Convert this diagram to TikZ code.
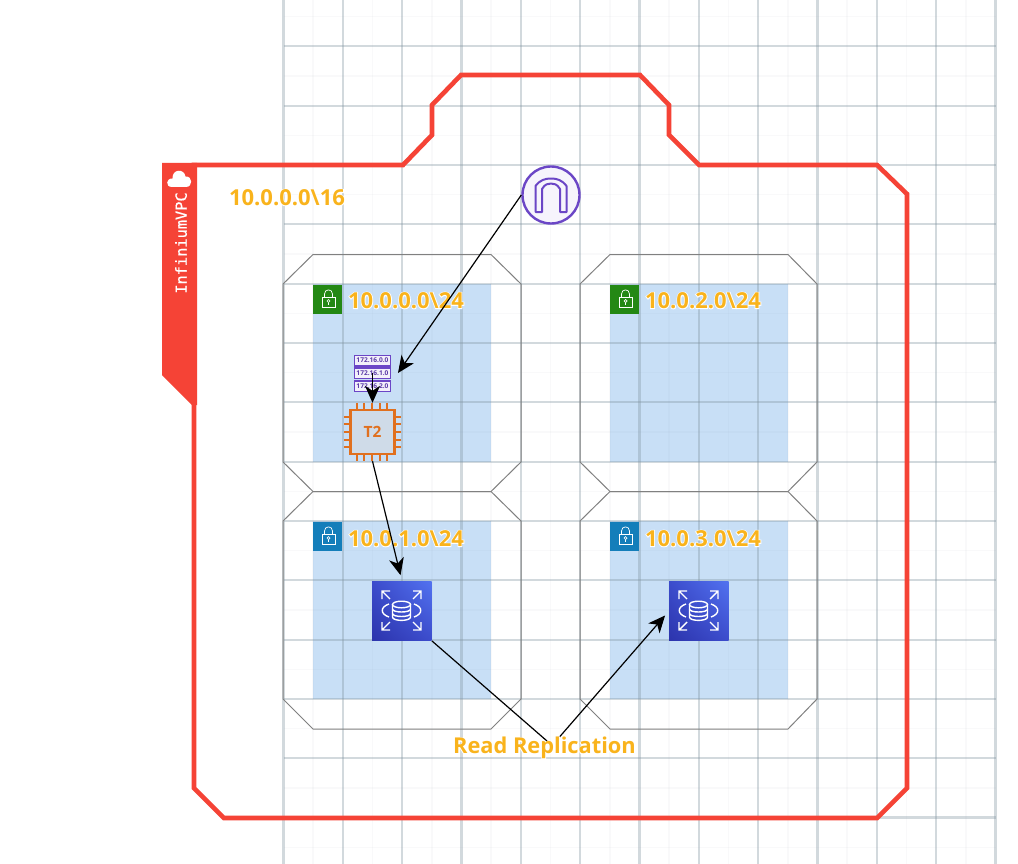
\documentclass[tikz,border=0pt]{standalone}
\usepackage{fontspec}
\usetikzlibrary{arrows.meta,shadings}
\setmainfont{Open Sans}
\newfontfamily\halof[BoldFeatures={FakeBold=7}]{Open Sans}
\newfontfamily\monof[FakeBold=0.6]{DejaVu Sans Mono}
\definecolor{vpcred}{HTML}{F54336}
\definecolor{labelor}{HTML}{F9B31C}
\definecolor{subblue}{HTML}{C8DFF6}
\definecolor{gridmaj}{HTML}{7D909E}
\definecolor{gridmin}{HTML}{8C9AA8}
\definecolor{purp}{HTML}{6B46C6}
\definecolor{ec2or}{HTML}{E0701F}
\definecolor{ec2fill}{HTML}{CFDBE8}
\definecolor{lockgreen}{HTML}{248814}
\definecolor{lockblue}{HTML}{147EBA}
\definecolor{rdslow}{HTML}{2C34AC}
\definecolor{rdsmid}{HTML}{3C4CCC}
\definecolor{rdshigh}{HTML}{5272F0}
\newcommand\halotxt[1]{\leavevmode\rlap{\color{white}\halof\bfseries #1}#1}
\tikzset{
  octa/.style={draw=black!50,line width=1pt},
  subnetbg/.style={fill=subblue,draw=none},
  conn/.style={draw=black,line width=1.2pt},
  tipped/.style={conn,-{Stealth[length=17pt,width=15pt,inset=5pt]}},
  sublabel/.style={inner sep=0pt,text=labelor,font=\fontsize{22}{24}\selectfont\bfseries},
  rtrow/.style={draw=purp,line width=1.5pt,fill=purp!8,minimum width=36pt,minimum height=10.5pt,inner sep=0pt,text=purp!85!black,font=\fontsize{6.6}{7}\selectfont\bfseries},
  iconline/.style={draw=white,line width=1.4pt},
}
% lock icon: #1 name, #2 left x, #3 top y, #4 colour
\newcommand\lockicon[4]{%
  \node[fill=#4,minimum width=29pt,minimum height=29pt,inner sep=0pt,anchor=north west] (#1) at (#2,#3) {};
  \begin{scope}[shift={(#2,#3)},draw=white,line width=0.7pt]
    \draw (9,12) rectangle (22,22.5);
    \draw (11.5,12) -- (11.5,9) .. controls (11.5,3.5) and (19.5,3.5) .. (19.5,9) -- (19.5,12);
    \draw (15.5,16) circle (1.5);
    \draw (15.5,17.5) -- (15.5,20);
  \end{scope}}
% RDS icon: #1 name, #2 left x, #3 top y
\newcommand\rdsicon[3]{%
  \node[minimum width=59.5pt,minimum height=59.5pt,inner sep=0pt,anchor=north west] (#1) at (#2,#3) {};
  \shade[lower left=rdslow,upper right=rdshigh,upper left=rdsmid,lower right=rdsmid] (#2,#3) rectangle ++(59.5,59.5);
  \begin{scope}[shift={(#2,#3)}]
    \draw[iconline] (18,10) -- (10,10) -- (10,18) (10,10) -- (18,18);
    \draw[iconline] (41,10) -- (49,10) -- (49,18) (49,10) -- (41,18);
    \draw[iconline] (18,49) -- (10,49) -- (10,41) (10,49) -- (18,41);
    \draw[iconline] (41,49) -- (49,49) -- (49,41) (49,49) -- (41,41);
    \draw[iconline] (17,23) .. controls (8,26) and (8,33) .. (17,36);
    \draw[iconline] (42,23) .. controls (51,26) and (51,33) .. (42,36);
    \draw[iconline] (29.5,23.5) ellipse (9 and 3.3);
    \draw[iconline] (20.5,23.5) -- (20.5,36) .. controls (20.5,40.5) and (38.5,40.5) .. (38.5,36) -- (38.5,23.5);
    \draw[iconline] (20.5,28) .. controls (20.5,32) and (38.5,32) .. (38.5,28);
    \draw[iconline] (20.5,32.5) .. controls (20.5,36.5) and (38.5,36.5) .. (38.5,32.5);
  \end{scope}}
\begin{document}
\begin{tikzpicture}[x=1pt,y=-1pt]
\useasboundingbox (0,0) rectangle (1018,864);
\fill[white] (0,0) rectangle (1018,864);
% subnet backgrounds
\fill[subnetbg] (313,284) rectangle (491,462);
\fill[subnetbg] (610,284) rectangle (788,462);
\fill[subnetbg] (313,521) rectangle (491,699);
\fill[subnetbg] (610,521) rectangle (788,699);
% grid
\foreach \k in {0,...,11}{
  \draw[gridmin,line width=1.4pt,opacity=.05] ({283.5+29.67+\k*59.33},0) -- ({283.5+29.67+\k*59.33},864);
}
\foreach \k in {0,...,14}{
  \draw[gridmin,line width=1.4pt,opacity=.05] (283.5,{16.6+\k*59.33}) -- (995.5,{16.6+\k*59.33});
}
\foreach \k in {0,...,12}{
  \draw[gridmaj,line width=2.2pt,opacity=.34] ({283.5+\k*59.33},0) -- ({283.5+\k*59.33},864);
}
\foreach \k in {0,...,13}{
  \draw[gridmaj,line width=2.2pt,opacity=.34] (283.5,{46.3+\k*59.33}) -- (995.5,{46.3+\k*59.33});
}
% subnet outlines
\draw[octa] (283,284) -- (313,254.5) -- (491,254.5) -- (521,284) -- (521,462) -- (491,491.5) -- (313,491.5) -- (283,462) -- cycle;
\draw[octa] (580,284) -- (610,254.5) -- (788,254.5) -- (817,284) -- (817,462) -- (788,491.5) -- (610,491.5) -- (580,462) -- cycle;
\draw[octa] (283,521) -- (313,491.5) -- (491,491.5) -- (521,521) -- (521,699) -- (491,729) -- (313,729) -- (283,699) -- cycle;
\draw[octa] (580,521) -- (610,491.5) -- (788,491.5) -- (817,521) -- (817,699) -- (788,729) -- (610,729) -- (580,699) -- cycle;
% VPC
\draw[vpcred,line width=4.6pt,line join=miter] (194,165) -- (403,165) -- (432,135) -- (432,105) -- (461,75) -- (640,75) -- (669,105) -- (669,135) -- (699,165) -- (877,165) -- (907,194) -- (907,788) -- (877,818) -- (224,818) -- (194,788) -- cycle;
\fill[vpcred] (162,163) -- (197,163) -- (197,405) -- (192,405) -- (162,375) -- cycle;
\fill[white] (172,187) .. controls (165,187) and (166,178) .. (172.5,178.5) .. controls (172,169) and (184,168) .. (185.5,176.5) .. controls (193,176) and (193,187) .. (186,187) -- cycle;
\node[rotate=90,text=white,inner sep=0pt,font=\monof\fontsize{15.3}{16}\selectfont] (vpcname) at (181,243) {InfiniumVPC};
\node[sublabel] (vpccidr) at (287,197.5) {\halotxt{10.0.0.0\textbackslash 16}};
% lock icons
\lockicon{lock0}{313}{285}{lockgreen}
\lockicon{lock2}{610}{285}{lockgreen}
\lockicon{lock1}{313}{522}{lockblue}
\lockicon{lock3}{610}{522}{lockblue}
\node[sublabel] (sub0) at (406,300.5) {\halotxt{10.0.0.0\textbackslash 24}};
\node[sublabel] (sub2) at (703,300.5) {\halotxt{10.0.2.0\textbackslash 24}};
\node[sublabel] (sub1) at (406,538.5) {\halotxt{10.0.1.0\textbackslash 24}};
\node[sublabel] (sub3) at (703,538.5) {\halotxt{10.0.3.0\textbackslash 24}};
% internet gateway
\node[circle,draw=purp,line width=2.4pt,fill=purp!6,minimum size=57pt,inner sep=0pt] (igw) at (551,195) {};
\draw[purp,line width=2pt,line join=round] (535.5,212) -- (535.5,186) .. controls (540,180) and (545,178.5) .. (551,178.5) .. controls (557,178.5) and (562,180) .. (566.5,186) -- (566.5,212) -- (560,212) -- (560,189) .. controls (557,184) and (554,183.5) .. (551,183.5) .. controls (548,183.5) and (545,184) .. (542,189) -- (542,212) -- cycle;
% route table
\node[rtrow] (rt0) at (372.5,360.5) {172.16.0.0};
\node[rtrow] (rt1) at (372.5,373) {172.16.1.0};
\node[rtrow] (rt2) at (372.5,386) {172.16.2.0};
% EC2
\node[minimum width=57pt,minimum height=58pt,inner sep=0pt] (ec2) at (372.5,432) {};
\foreach \d in {-15.5,-8,0,7.5,15}{
  \draw[ec2or,line width=2pt] (372+\d,403) -- (372+\d,461);
  \draw[ec2or,line width=2pt] (344,432+\d) -- (401,432+\d);
}
\node[draw=ec2or,line width=2.4pt,fill=ec2fill,minimum width=44pt,minimum height=44pt,inner sep=0pt,text=ec2or,font=\fontsize{15.5}{16}\selectfont\bfseries] (ec2box) at (372.5,432) {T2};
% RDS
\rdsicon{rds1}{372}{581}
\rdsicon{rds2}{669}{581}
% connectors
\coordinate (igwend) at (398,373);
\coordinate (bendin) at (547,741);
\coordinate (bendout) at (556,741);
\draw[tipped] (igw.west) -- (igwend);
\draw[tipped] (rt1.center) -- (ec2.north);
\draw[tipped,shorten >=6pt] (ec2.south) -- (rds1.north);
\draw[conn] (rds1.south east) -- (bendin);
\draw[tipped,shorten >=6pt] (bendout) -- (rds2.west);
\node[inner sep=0pt,text=labelor,font=\fontsize{21.8}{24}\selectfont\bfseries] (readrep) at (544.5,748) {\halotxt{Read Replication}};
\end{tikzpicture}
\end{document}
